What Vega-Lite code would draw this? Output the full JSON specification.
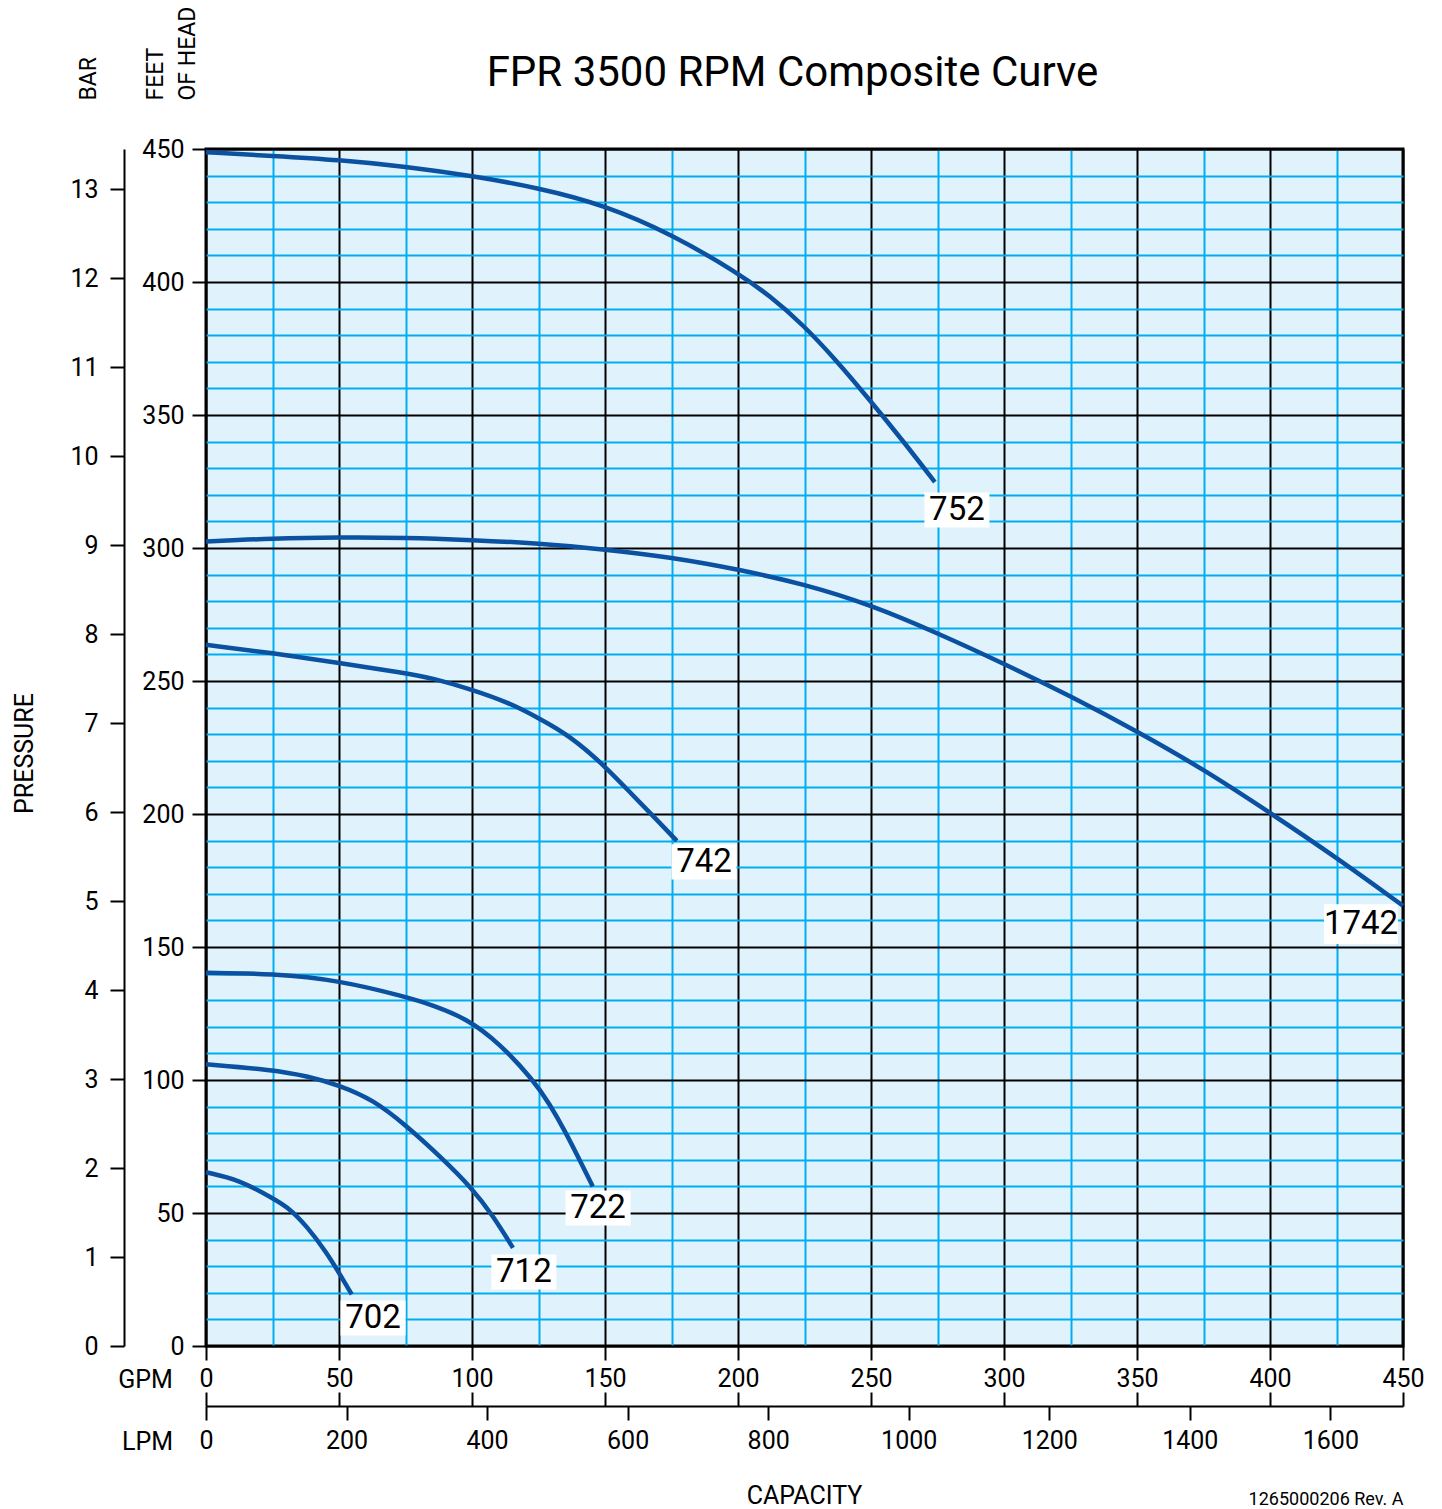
{
  "$schema": "https://vega.github.io/schema/vega-lite/v6.json",
  "width": 1197,
  "height": 1197,
  "autosize": {"type": "none"},
  "padding": {"left": 206, "top": 149, "right": 39, "bottom": 163},
  "background": "white",
  "config": {
    "font": "Roboto",
    "view": {"stroke": "black", "strokeWidth": 3, "fill": "#e0f3fc"},
    "axis": {"labelColor": "black", "titleColor": "black", "titleFontWeight": "normal", "labelFontSize": 25, "titleFontSize": 25, "labelFont": "Roboto", "titleFont": "Roboto"}
  },
  "datasets": {
    "curves": [
      {"curve": "752", "gpm": 0, "ft": 448.8}, {"curve": "752", "gpm": 25, "ft": 447.4}, {"curve": "752", "gpm": 50, "ft": 445.9}, {"curve": "752", "gpm": 75, "ft": 443.4}, {"curve": "752", "gpm": 100, "ft": 439.9}, {"curve": "752", "gpm": 125, "ft": 435.4}, {"curve": "752", "gpm": 150, "ft": 428.9}, {"curve": "752", "gpm": 175, "ft": 418}, {"curve": "752", "gpm": 200, "ft": 403.4}, {"curve": "752", "gpm": 212, "ft": 394.8}, {"curve": "752", "gpm": 224.4, "ft": 384}, {"curve": "752", "gpm": 237, "ft": 370.5}, {"curve": "752", "gpm": 249.3, "ft": 355.9}, {"curve": "752", "gpm": 262, "ft": 340.3}, {"curve": "752", "gpm": 274, "ft": 324.8},
      {"curve": "1742", "gpm": 0, "ft": 302.4}, {"curve": "1742", "gpm": 25, "ft": 303.6}, {"curve": "1742", "gpm": 50, "ft": 304}, {"curve": "1742", "gpm": 75, "ft": 303.9}, {"curve": "1742", "gpm": 100, "ft": 303}, {"curve": "1742", "gpm": 125, "ft": 301.8}, {"curve": "1742", "gpm": 150, "ft": 299.5}, {"curve": "1742", "gpm": 175, "ft": 296.5}, {"curve": "1742", "gpm": 200, "ft": 292}, {"curve": "1742", "gpm": 225, "ft": 286.4}, {"curve": "1742", "gpm": 250, "ft": 278.6}, {"curve": "1742", "gpm": 275, "ft": 268}, {"curve": "1742", "gpm": 300, "ft": 256.5}, {"curve": "1742", "gpm": 325, "ft": 244.3}, {"curve": "1742", "gpm": 350, "ft": 231.1}, {"curve": "1742", "gpm": 375, "ft": 216.8}, {"curve": "1742", "gpm": 400, "ft": 200.5}, {"curve": "1742", "gpm": 425, "ft": 183.6}, {"curve": "1742", "gpm": 450, "ft": 165.5},
      {"curve": "742", "gpm": 0, "ft": 263.6}, {"curve": "742", "gpm": 25, "ft": 260.5}, {"curve": "742", "gpm": 50, "ft": 256.8}, {"curve": "742", "gpm": 75, "ft": 253}, {"curve": "742", "gpm": 85, "ft": 251.1}, {"curve": "742", "gpm": 100, "ft": 246.8}, {"curve": "742", "gpm": 114, "ft": 241.8}, {"curve": "742", "gpm": 125, "ft": 236.1}, {"curve": "742", "gpm": 137, "ft": 229.3}, {"curve": "742", "gpm": 150, "ft": 218}, {"curve": "742", "gpm": 160, "ft": 207.5}, {"curve": "742", "gpm": 169, "ft": 198.3}, {"curve": "742", "gpm": 177, "ft": 189.9},
      {"curve": "722", "gpm": 0, "ft": 140.3}, {"curve": "722", "gpm": 25, "ft": 140}, {"curve": "722", "gpm": 50, "ft": 137.5}, {"curve": "722", "gpm": 75, "ft": 131.3}, {"curve": "722", "gpm": 85.4, "ft": 128.1}, {"curve": "722", "gpm": 98, "ft": 123.1}, {"curve": "722", "gpm": 110.4, "ft": 113.8}, {"curve": "722", "gpm": 123, "ft": 100}, {"curve": "722", "gpm": 129, "ft": 91.3}, {"curve": "722", "gpm": 135.4, "ft": 80}, {"curve": "722", "gpm": 140.4, "ft": 70}, {"curve": "722", "gpm": 145.4, "ft": 60},
      {"curve": "712", "gpm": 0, "ft": 105.9}, {"curve": "712", "gpm": 25, "ft": 103.8}, {"curve": "712", "gpm": 38, "ft": 101.5}, {"curve": "712", "gpm": 50, "ft": 98.1}, {"curve": "712", "gpm": 63, "ft": 92.5}, {"curve": "712", "gpm": 75, "ft": 83.1}, {"curve": "712", "gpm": 88, "ft": 71.3}, {"curve": "712", "gpm": 100, "ft": 59.4}, {"curve": "712", "gpm": 108, "ft": 48.8}, {"curve": "712", "gpm": 115.4, "ft": 36.9},
      {"curve": "702", "gpm": 0, "ft": 65.3}, {"curve": "702", "gpm": 12.5, "ft": 62.5}, {"curve": "702", "gpm": 25, "ft": 55.6}, {"curve": "702", "gpm": 30.4, "ft": 52.5}, {"curve": "702", "gpm": 38, "ft": 45}, {"curve": "702", "gpm": 45.4, "ft": 35}, {"curve": "702", "gpm": 50, "ft": 27.5}, {"curve": "702", "gpm": 54.8, "ft": 19.4}
    ],
    "labels": [
      {"label": "752", "gpm": 282.3, "ft": 314.3},
      {"label": "1742", "gpm": 434.2, "ft": 158.6},
      {"label": "742", "gpm": 187.2, "ft": 182},
      {"label": "722", "gpm": 147.4, "ft": 51.9},
      {"label": "712", "gpm": 119.5, "ft": 27.8},
      {"label": "702", "gpm": 62.8, "ft": 10.5}
    ],
    "frame": [
      {"gpm": 0, "lpm": 0, "bar": 0, "ft": 0},
      {"gpm": 450, "lpm": 1703.4, "bar": 13.451, "ft": 450}
    ]
  },
  "layer": [
    {
      "layer": [
        {
          "data": {"name": "labels"},
          "mark": {"type": "point", "shape": "M-1,-0.54L1,-0.54L1,0.54L-1,0.54Z", "filled": true, "color": "white", "opacity": 1},
          "encoding": {
            "x": {"field": "gpm", "type": "quantitative", "scale": {"domain": [0, 450], "nice": false, "zero": false},
              "axis": {
                "orient": "bottom", "domain": false,
                "values": [0, 25, 50, 75, 100, 125, 150, 175, 200, 225, 250, 275, 300, 325, 350, 375, 400, 425, 450],
                "tickCount": 1000,
                "grid": true, "gridWidth": 2, "gridOpacity": 1,
                "gridColor": {"condition": {"test": "datum.value % 50 === 0", "value": "black"}, "value": "#00aeef"},
                "ticks": true, "tickSize": 14, "tickWidth": 2, "tickColor": "black",
                "tickOpacity": {"condition": {"test": "datum.value % 50 === 0", "value": 1}, "value": 0},
                "labelExpr": "datum.value % 50 === 0 ? datum.label : ''",
                "format": "d", "labelPadding": 6, "labelFlush": false, "labelOverlap": false,
                "title": "GPM", "titleX": -61, "titleY": 33, "titleAlign": "center", "titleBaseline": "middle", "titleAngle": 0
              }
            },
            "y": {"field": "ft", "type": "quantitative", "scale": {"domain": [0, 450], "nice": false, "zero": false},
              "axis": {
                "orient": "left", "domain": false,
                "values": [0, 10, 20, 30, 40, 50, 60, 70, 80, 90, 100, 110, 120, 130, 140, 150, 160, 170, 180, 190, 200, 210, 220, 230, 240, 250, 260, 270, 280, 290, 300, 310, 320, 330, 340, 350, 360, 370, 380, 390, 400, 410, 420, 430, 440, 450],
                "tickCount": 1000,
                "grid": true, "gridWidth": 2, "gridOpacity": 1,
                "gridColor": {"condition": {"test": "datum.value % 50 === 0", "value": "black"}, "value": "#00aeef"},
                "ticks": true, "tickSize": 14, "tickWidth": 2, "tickColor": "black",
                "tickOpacity": {"condition": {"test": "datum.value % 50 === 0", "value": 1}, "value": 0},
                "labelExpr": "datum.value % 50 === 0 ? datum.label : ''",
                "format": "d", "labelPadding": 8, "labelFlush": false, "labelOverlap": false,
                "title": ["FEET", "OF HEAD"], "titleFontSize": 23, "titleAngle": 270, "titleAlign": "left", "titleBaseline": "alphabetic",
                "titleX": -44, "titleY": -49, "titleLineHeight": 32
              }
            },
            "size": {"condition": {"test": "length(datum.label) > 3", "value": 5476}, "value": 4225}
          }
        },
        {
          "data": {"name": "curves"},
          "mark": {"type": "line", "color": "#0a51a1", "strokeWidth": 4.5, "interpolate": "basis"},
          "encoding": {
            "x": {"field": "gpm", "type": "quantitative"},
            "y": {"field": "ft", "type": "quantitative"},
            "detail": {"field": "curve"}
          }
        },
        {
          "data": {"name": "labels"},
          "mark": {"type": "text", "fontSize": 33, "align": "center", "baseline": "middle", "color": "black"},
          "encoding": {
            "x": {"field": "gpm", "type": "quantitative"},
            "y": {"field": "ft", "type": "quantitative"},
            "text": {"field": "label"}
          }
        }
      ]
    },
    {
      "data": {"name": "frame"},
      "mark": {"type": "point", "opacity": 0},
      "encoding": {
        "y": {"field": "bar", "type": "quantitative", "scale": {"domain": [0, 13.451], "nice": false, "zero": false},
          "axis": {
            "orient": "left", "offset": 82, "grid": false,
            "values": [0, 1, 2, 3, 4, 5, 6, 7, 8, 9, 10, 11, 12, 13],
            "tickCount": 1000, "format": "d",
            "domain": true, "domainColor": "black", "domainWidth": 2,
            "ticks": true, "tickSize": 14, "tickWidth": 2, "tickColor": "black",
            "labelPadding": 12, "labelFlush": false, "labelOverlap": false,
            "title": "BAR", "titleFontSize": 23, "titleAngle": 270, "titleAlign": "left", "titleBaseline": "alphabetic",
            "titleX": -29, "titleY": -49
          }
        }
      }
    },
    {
      "data": {"name": "frame"},
      "mark": {"type": "point", "opacity": 0},
      "encoding": {
        "y": {"field": "ft", "type": "quantitative", "scale": {"domain": [0, 450], "nice": false, "zero": false},
          "axis": {
            "orient": "left", "grid": false, "domain": false, "ticks": false, "labels": false,
            "title": "PRESSURE", "titleAngle": 270, "titleAlign": "center", "titleBaseline": "alphabetic",
            "titleX": -174, "titleY": 604
          }
        }
      }
    },
    {
      "data": {"name": "frame"},
      "mark": {"type": "point", "opacity": 0},
      "encoding": {
        "x": {"field": "lpm", "type": "quantitative", "scale": {"domain": [0, 1703.4], "nice": false, "zero": false},
          "axis": {
            "orient": "bottom", "offset": 60, "grid": false,
            "values": [0, 200, 400, 600, 800, 1000, 1200, 1400, 1600],
            "format": "d",
            "domain": true, "domainColor": "black", "domainWidth": 2,
            "ticks": true, "tickSize": 14, "tickWidth": 2, "tickColor": "black",
            "labelPadding": 8, "labelFlush": false, "labelOverlap": false,
            "title": "CAPACITY", "titleX": 598, "titleY": 97, "titleAlign": "center", "titleBaseline": "alphabetic"
          }
        }
      }
    },
    {
      "data": {"name": "frame"},
      "mark": {"type": "point", "opacity": 0},
      "encoding": {
        "x": {"field": "gpm", "type": "quantitative", "scale": {"domain": [0, 450], "nice": false, "zero": false},
          "axis": {
            "orient": "bottom", "offset": 60, "grid": false,
            "values": [0, 50, 100, 150, 200, 250, 300, 350, 400, 450],
            "domain": false, "labels": false,
            "ticks": true, "tickSize": -14, "tickWidth": 2, "tickColor": "black",
            "title": "LPM", "titleX": -59, "titleY": 35, "titleAlign": "center", "titleBaseline": "middle"
          }
        }
      }
    },
    {
      "data": {"name": "frame"},
      "mark": {"type": "point", "opacity": 0},
      "encoding": {
        "x": {"field": "gpm", "type": "quantitative", "scale": {"domain": [0, 450], "nice": false, "zero": false},
          "axis": {
            "orient": "bottom", "grid": false, "domain": false, "labels": false, "ticks": false,
            "title": "1265000206 Rev. A", "titleFontSize": 18, "titleX": 1197, "titleY": 158, "titleAlign": "right", "titleBaseline": "alphabetic"
          }
        }
      }
    },
    {
      "data": {"name": "frame"},
      "mark": {"type": "point", "opacity": 0},
      "encoding": {
        "x": {"field": "gpm", "type": "quantitative", "scale": {"domain": [0, 450], "nice": false, "zero": false},
          "axis": {
            "orient": "top", "grid": false, "domain": false, "labels": false, "ticks": false,
            "title": "FPR 3500 RPM Composite Curve", "titleFontSize": 42, "titleX": 586, "titleY": -64, "titleAlign": "center", "titleBaseline": "alphabetic"
          }
        }
      }
    }
  ],
  "resolve": {"scale": {"x": "independent", "y": "independent"}}
}
